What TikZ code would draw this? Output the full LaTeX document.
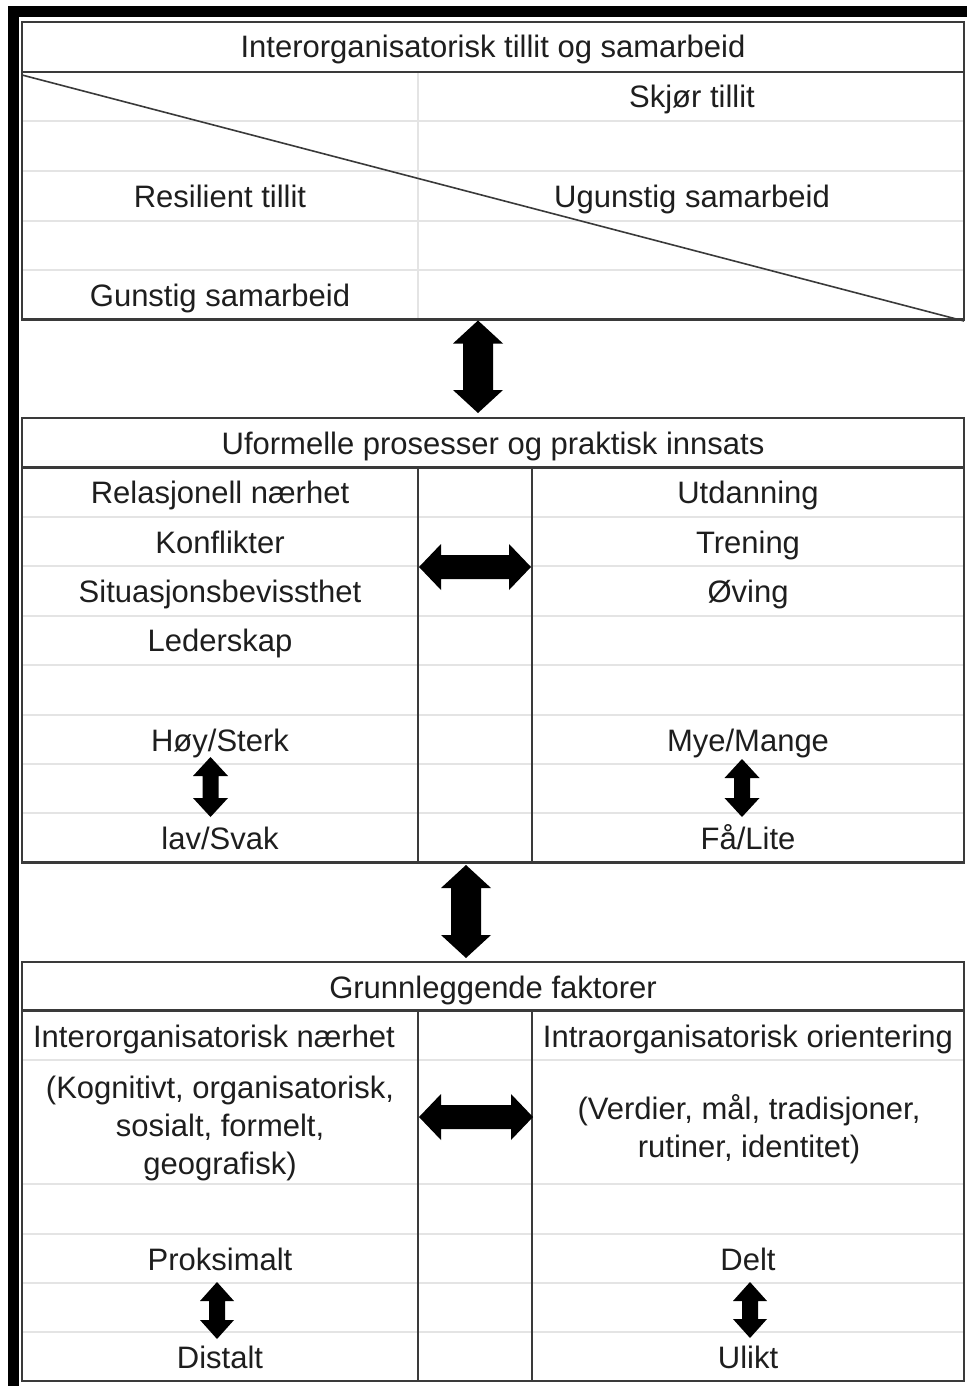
\documentclass[tikz,border=0pt]{standalone}
\usepackage{fontspec}
\setmainfont{Liberation Sans}
\usetikzlibrary{calc}
\definecolor{txt}{HTML}{1E1E1E}
\definecolor{dark}{HTML}{3A3A3A}
\definecolor{grid}{HTML}{E4E4E4}
\tikzset{
  lbl/.style={anchor=base, inner sep=0pt, text=txt, font=\fontsize{31}{38}\selectfont, align=center},
  gridline/.style={draw=grid, line width=2pt},
  border/.style={draw=dark, line width=2.5pt},
  diag/.style={draw=dark, line width=1.6pt},
  frame/.style={draw=black, line width=11pt},
  blockarrow/.style={fill=black}
}
% vertical double block arrow: #1 top tip, #2 bottom tip, #3 head half width, #4 shaft half width, #5 head length
\newcommand\vblock[5]{%
  \fill[blockarrow] (#1) -- ($(#1)+(#3,#5)$) -- ($(#1)+(#4,#5)$) -- ($(#2)+(#4,-#5)$) -- ($(#2)+(#3,-#5)$) -- (#2)
    -- ($(#2)+(-#3,-#5)$) -- ($(#2)+(-#4,-#5)$) -- ($(#1)+(-#4,#5)$) -- ($(#1)+(-#3,#5)$) -- cycle;}
% horizontal double block arrow: #1 left tip, #2 right tip
\newcommand\hblock[5]{%
  \fill[blockarrow] (#1) -- ($(#1)+(#5,-#3)$) -- ($(#1)+(#5,-#4)$) -- ($(#2)+(-#5,-#4)$) -- ($(#2)+(-#5,-#3)$) -- (#2)
    -- ($(#2)+(-#5,#3)$) -- ($(#2)+(-#5,#4)$) -- ($(#1)+(#5,#4)$) -- ($(#1)+(#5,#3)$) -- cycle;}
\begin{document}
\begin{tikzpicture}[x=1pt,y=-1pt]
\useasboundingbox (0,0) rectangle (967,1386);
\fill[white] (0,0) rectangle (967,1386);

% ---------- Section 1 ----------
\foreach \y in {121.5,171,220.5,270} \draw[gridline] (22,\y) -- (964,\y);
\draw[gridline] (418,72) -- (418,319.5);
\draw[diag] (22,75) -- (964,321);
\draw[border] (22,22) rectangle (964,319.5);
\draw[border] (22,72) -- (964,72);

\node[lbl] (t1) at (493,58) {Interorganisatorisk tillit og samarbeid};
\node[lbl] (skjor) at (692,108) {Skjør tillit};
\node[lbl] (resil) at (220,207) {Resilient tillit};
\node[lbl] (ugun) at (692,207) {Ugunstig samarbeid};
\node[lbl] (gun) at (220,306) {Gunstig samarbeid};

% ---------- Section 2 ----------
\foreach \y in {517,566,615.5,665,714.5,764,813} \draw[gridline] (22,\y) -- (964,\y);
\draw[border] (22,418) rectangle (964,862.5);
\draw[border] (22,467.5) -- (964,467.5);
\draw[border] (418,467.5) -- (418,862.5);
\draw[border] (532,467.5) -- (532,862.5);

\node[lbl] (t2) at (493,454) {Uformelle prosesser og praktisk innsats};
\node[lbl] (rel) at (220,503) {Relasjonell nærhet};
\node[lbl] (konf) at (220,553) {Konflikter};
\node[lbl] (sit) at (220,602) {Situasjonsbevissthet};
\node[lbl] (led) at (220,651) {Lederskap};
\node[lbl] (hoy) at (220,751) {Høy/Sterk};
\node[lbl] (lav) at (220,849) {lav/Svak};
\node[lbl] (utd) at (748,503) {Utdanning};
\node[lbl] (tren) at (748,553) {Trening};
\node[lbl] (oving) at (748,602) {Øving};
\node[lbl] (mye) at (748,751) {Mye/Mange};
\node[lbl] (faa) at (748,849) {Få/Lite};

% ---------- Section 3 ----------
\foreach \y in {1060,1184,1233.5,1283,1332} \draw[gridline] (22,\y) -- (964,\y);
\draw[border] (22,962) rectangle (964,1381);
\draw[border] (22,1010.5) -- (964,1010.5);
\draw[border] (418,1010.5) -- (418,1381);
\draw[border] (532,1010.5) -- (532,1381);

\node[lbl] (t3) at (493,998) {Grunnleggende faktorer};
\node[lbl] (inter) at (214,1047) {Interorganisatorisk nærhet};
\node[lbl] (intra) at (748,1047) {Intraorganisatorisk orientering};
\node[lbl] (kogn) at (220,1174) {(Kognitivt, organisatorisk,\\sosialt, formelt,\\geografisk)};
\node[lbl] (verd) at (749,1157) {(Verdier, mål, tradisjoner,\\rutiner, identitet)};
\node[lbl] (prox) at (220,1270) {Proksimalt};
\node[lbl] (dist) at (220,1368) {Distalt};
\node[lbl] (delt) at (748,1270) {Delt};
\node[lbl] (ulikt) at (748,1368) {Ulikt};

% ---------- Arrows ----------
\coordinate (a1t) at (478,320.5);
\coordinate (a1b) at (478,413);
\vblock{a1t}{a1b}{25}{15}{23}
\coordinate (a2t) at (466,865);
\coordinate (a2b) at (466,958);
\vblock{a2t}{a2b}{25}{15}{23}
\coordinate (h1l) at (419,567);
\coordinate (h1r) at (531,567);
\hblock{h1l}{h1r}{23}{12}{22}
\coordinate (h2l) at (419,1117);
\coordinate (h2r) at (533,1117);
\hblock{h2l}{h2r}{23}{12}{22}
\coordinate (s1t) at (210.5,757);
\coordinate (s1b) at (210.5,817);
\vblock{s1t}{s1b}{17.5}{8}{19}
\coordinate (s2t) at (742,759);
\coordinate (s2b) at (742,817);
\vblock{s2t}{s2b}{17.5}{8}{19}
\coordinate (s3t) at (217,1282);
\coordinate (s3b) at (217,1339);
\vblock{s3t}{s3b}{17}{8}{19}
\coordinate (s4t) at (750,1282);
\coordinate (s4b) at (750,1338);
\vblock{s4t}{s4b}{17}{8}{19}

% ---------- Outer frame ----------
\draw[frame] (13.5,1386) -- (13.5,12) -- (967,12);
\end{tikzpicture}
\end{document}
